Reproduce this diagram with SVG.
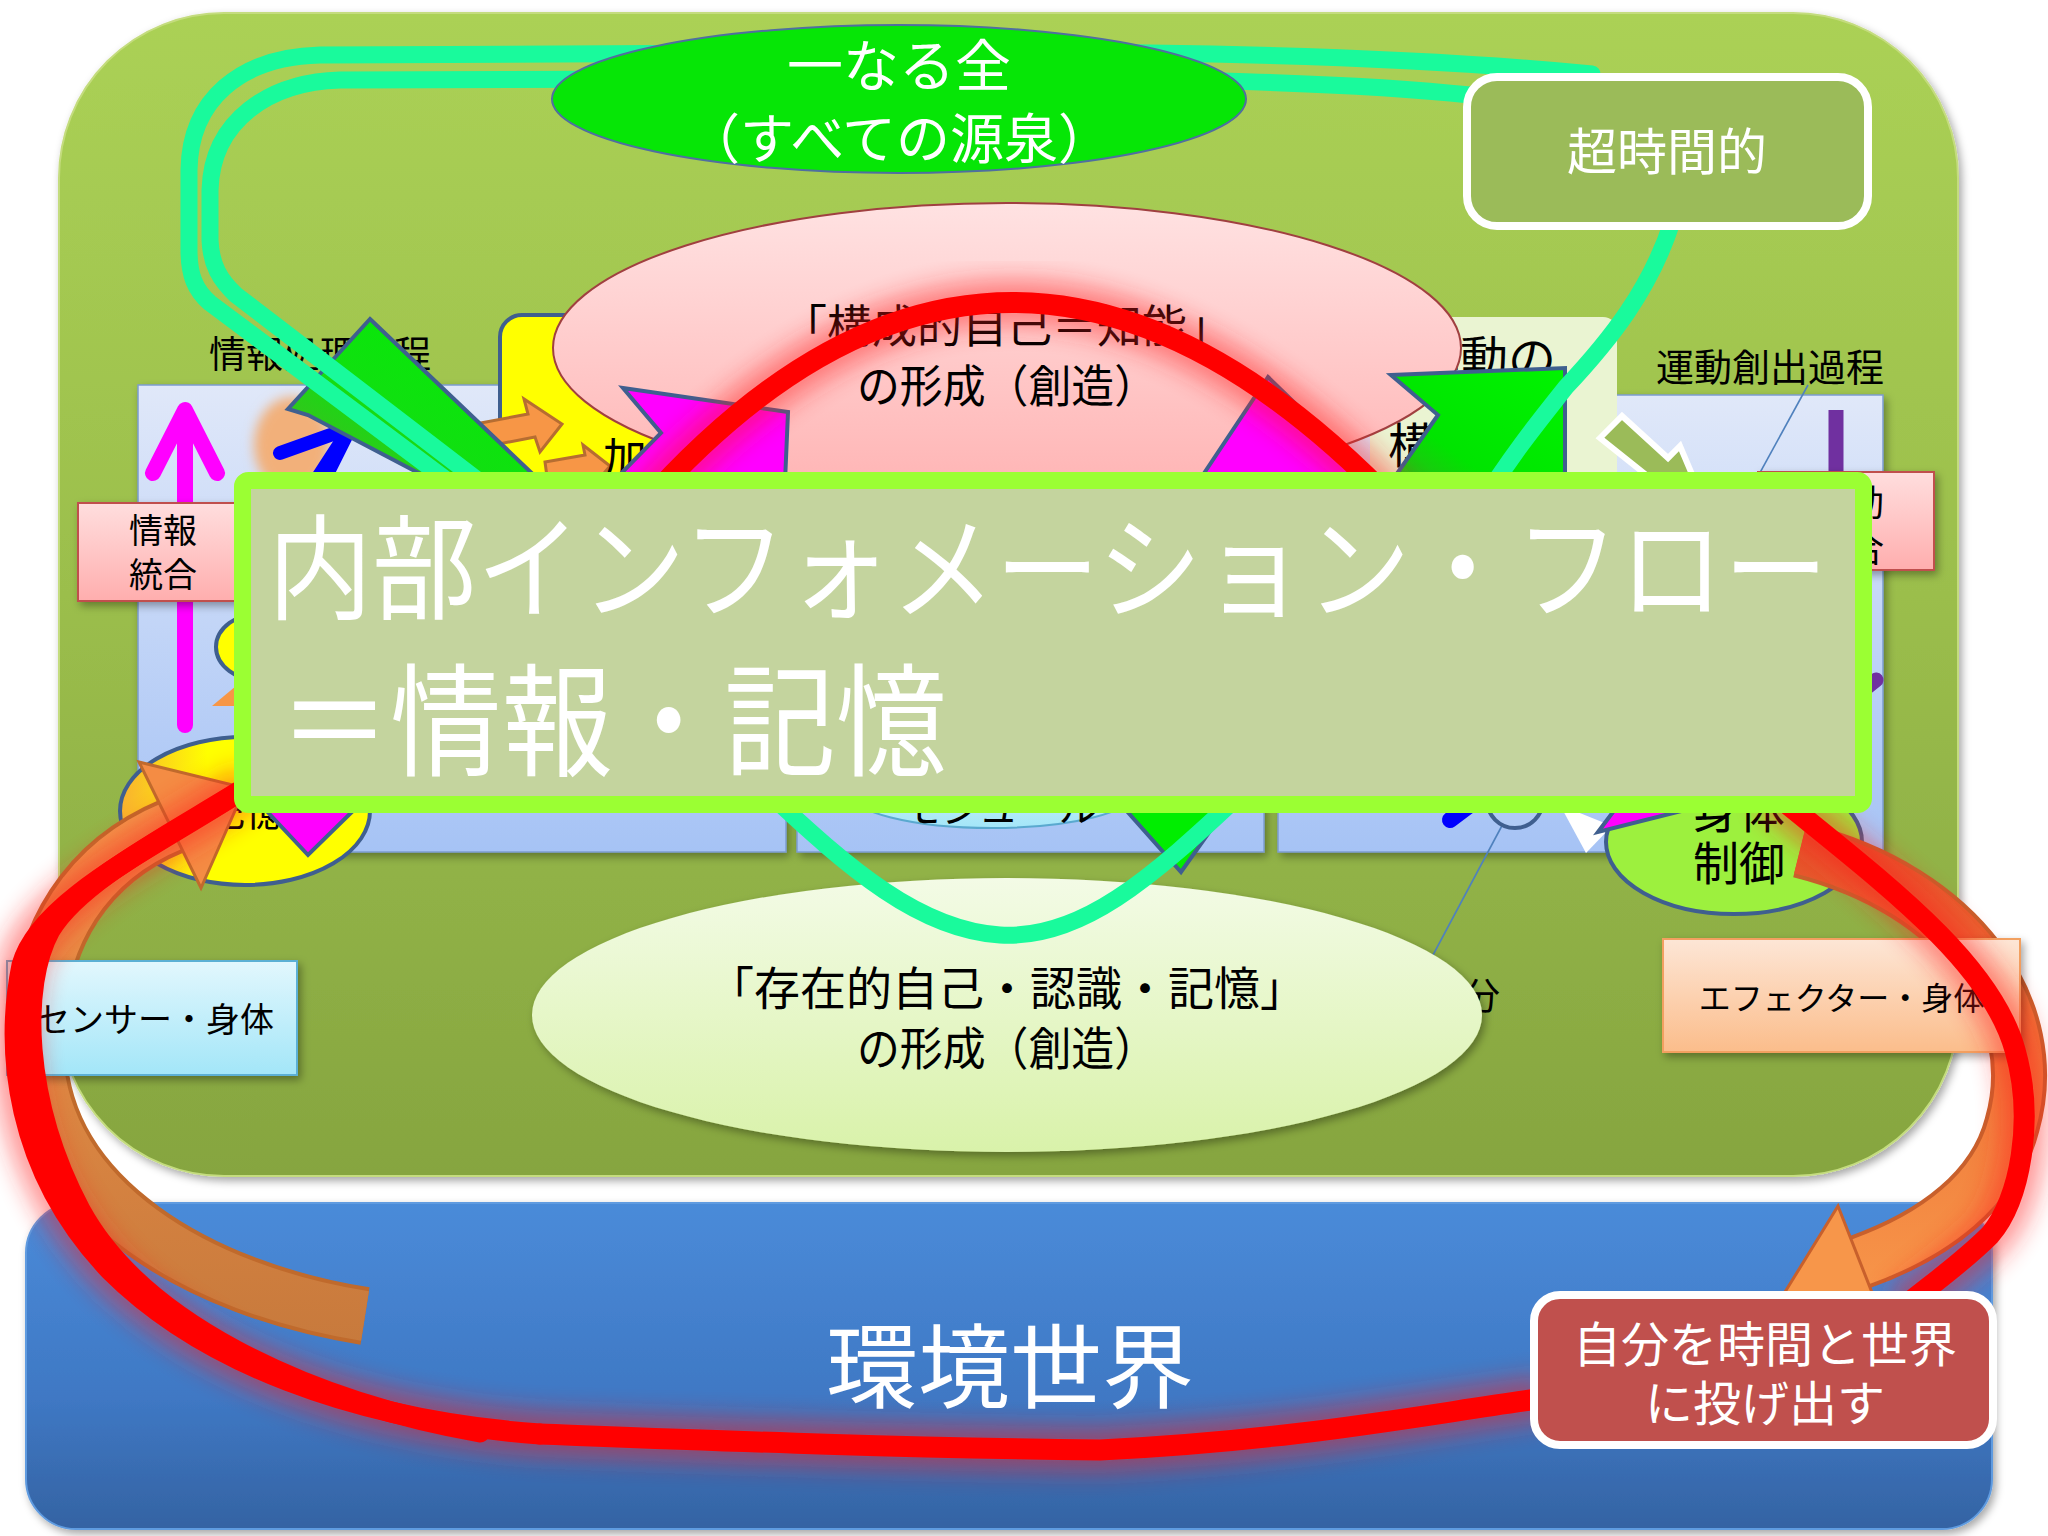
<svg xmlns="http://www.w3.org/2000/svg" width="2048" height="1536" viewBox="0 0 2048 1536">
<defs>
<style>
.t{font-family:'Noto Sans CJK JP','Noto Sans CJK SC',sans-serif;}
.blk{fill:#000;}
.wht{fill:#fff;}
.ol{stroke:#3f5f8f;stroke-width:4;}
.cy{fill:none;stroke:#19fa9c;stroke-width:17;stroke-linecap:round;stroke-linejoin:round;}
.red{fill:none;stroke:#ff0000;stroke-width:21;stroke-linecap:round;stroke-linejoin:round;}
.glow{fill:none;stroke:#ff1a1a;stroke-width:46;opacity:0.45;filter:url(#blur12);}
.thin{fill:none;stroke:#4f81bd;stroke-width:1.6;}
.panel{fill:url(#gPanel);stroke:#7c9cd0;stroke-width:1.5;filter:url(#shadow);}
</style>
<linearGradient id="gMain" x1="0" y1="0" x2="0" y2="1">
<stop offset="0" stop-color="#abd155"/><stop offset="0.5" stop-color="#9bbe4c"/><stop offset="1" stop-color="#86a540"/>
</linearGradient>
<linearGradient id="gBlue" x1="0" y1="0" x2="0" y2="1">
<stop offset="0" stop-color="#4a8bd9"/><stop offset="0.6" stop-color="#3f78c4"/><stop offset="1" stop-color="#3463a3"/>
</linearGradient>
<linearGradient id="gPanel" x1="0" y1="0" x2="0" y2="1">
<stop offset="0" stop-color="#e0e8f9"/><stop offset="1" stop-color="#a6c3f5"/>
</linearGradient>
<linearGradient id="gPink" x1="0" y1="0" x2="0" y2="1">
<stop offset="0" stop-color="#ffdede"/><stop offset="1" stop-color="#ffaeae"/>
</linearGradient>
<linearGradient id="gPinkE" x1="0" y1="0" x2="0" y2="1">
<stop offset="0" stop-color="#ffe2e2"/><stop offset="1" stop-color="#ffb4b4"/>
</linearGradient>
<linearGradient id="gLGreen" x1="0" y1="0" x2="0" y2="1">
<stop offset="0" stop-color="#f3fbe6"/><stop offset="1" stop-color="#d9f2aa"/>
</linearGradient>
<linearGradient id="gCyan" x1="0" y1="0" x2="0" y2="1">
<stop offset="0" stop-color="#e2f7fd"/><stop offset="1" stop-color="#a3e6f8"/>
</linearGradient>
<linearGradient id="gOrangeBox" x1="0" y1="0" x2="0" y2="1">
<stop offset="0" stop-color="#fde6d6"/><stop offset="1" stop-color="#fbbd8b"/>
</linearGradient>
<linearGradient id="gOrange" gradientUnits="userSpaceOnUse" x1="0" y1="760" x2="0" y2="1360">
<stop offset="0" stop-color="#f7964a"/><stop offset="1" stop-color="#c6793c"/>
</linearGradient>
<linearGradient id="gOrangeR" gradientUnits="userSpaceOnUse" x1="0" y1="840" x2="0" y2="1300">
<stop offset="0" stop-color="#e4522a"/><stop offset="0.5" stop-color="#f07a3a"/><stop offset="1" stop-color="#f7964a"/>
</linearGradient>
<linearGradient id="gChev" x1="1" y1="0" x2="0" y2="1">
<stop offset="0" stop-color="#00f400"/><stop offset="0.6" stop-color="#00e400"/><stop offset="1" stop-color="#4a9a2a"/>
</linearGradient>
<linearGradient id="gGreenArrow" x1="1" y1="0" x2="0" y2="1">
<stop offset="0" stop-color="#00f000"/><stop offset="0.55" stop-color="#10e010"/><stop offset="1" stop-color="#5aa82a"/>
</linearGradient>
<linearGradient id="gYellow" x1="0" y1="0" x2="1" y2="0">
<stop offset="0" stop-color="#f9b030"/><stop offset="0.35" stop-color="#ffff00"/><stop offset="1" stop-color="#ffff00"/>
</linearGradient>
<filter id="shadow" x="-10%" y="-10%" width="120%" height="125%">
<feDropShadow dx="3" dy="4" stdDeviation="4" flood-color="#000" flood-opacity="0.35"/>
</filter>
<filter id="blur12" x="-20%" y="-20%" width="140%" height="140%">
<feGaussianBlur stdDeviation="12"/>
</filter>
<filter id="blur6" x="-50%" y="-50%" width="200%" height="200%">
<feGaussianBlur stdDeviation="6"/>
</filter>
</defs>

<rect x="0" y="0" width="2048" height="1536" fill="#ffffff"/>

<g id="main-area">
<rect x="59" y="13" width="1899" height="1163" rx="165" fill="url(#gMain)" stroke="#c4dc7e" stroke-width="2" filter="url(#shadow)"/>
</g>
<g id="environment">
<rect x="26" y="1203" width="1966" height="326" rx="50" fill="url(#gBlue)" stroke="#5f9be0" stroke-width="2" filter="url(#shadow)"/>
</g>

<g id="labels">
<text class="t blk" x="320" y="368" font-size="37" text-anchor="middle">情報処理過程</text>
<text class="t blk" x="1770" y="381" font-size="38" text-anchor="middle">運動創出過程</text>
</g>

<g id="panels">
<rect class="panel" x="138" y="385" width="648" height="467"/>
<rect class="panel" x="797" y="395" width="467" height="457"/>
<rect class="panel" x="1278" y="395" width="605" height="457"/>
</g>

<g id="callouts">
<line class="thin" x1="1808" y1="385" x2="1745" y2="500"/>
<line class="thin" x1="1521" y1="790" x2="1433" y2="955"/>
</g>

<g id="panel-contents">
<ellipse cx="292" cy="445" rx="38" ry="48" fill="#f2b07a" filter="url(#blur6)"/>
<ellipse cx="262" cy="647" rx="46" ry="34" fill="#ffff00" class="ol"/>
<polygon points="212,706 236,686 236,706" fill="#f79646"/>
<line x1="185" y1="725" x2="185" y2="412" stroke="#ff00ff" stroke-width="16" stroke-linecap="round"/>
<polyline points="153,473 185,410 217,473" fill="none" stroke="#ff00ff" stroke-width="16" stroke-linecap="round" stroke-linejoin="round"/>
<line x1="350" y1="428" x2="300" y2="505" stroke="#0000ff" stroke-width="14" stroke-linecap="round"/>
<polyline points="280,453 350,428 328,472" fill="none" stroke="#0000ff" stroke-width="14" stroke-linecap="round" stroke-linejoin="round"/>
<line x1="1836" y1="410" x2="1836" y2="712" stroke="#7030a0" stroke-width="15"/>
<polyline points="1796,680 1836,712 1876,680" fill="none" stroke="#7030a0" stroke-width="15" stroke-linecap="round"/>
<ellipse cx="992" cy="792" rx="143" ry="36" fill="url(#gCyan)" stroke="#5aa9cf" stroke-width="2"/>
<text class="t blk" x="1000" y="822" font-size="40" text-anchor="middle">モジュール</text>
<circle cx="1515" cy="800" r="28" fill="#b0cbf5" class="ol"/>
<line x1="1490" y1="790" x2="1450" y2="820" stroke="#0000ff" stroke-width="16" stroke-linecap="round"/>
<polygon points="1117,800 1232,800 1181,872" fill="#00ee00" class="ol"/>
</g>

<g id="info-integration">
<rect x="78" y="503" width="170" height="98" fill="url(#gPink)" stroke="#c0504d" stroke-width="2" filter="url(#shadow)"/>
<text class="t blk" x="163" y="543" font-size="34" text-anchor="middle">情報</text>
<text class="t blk" x="163" y="587" font-size="34" text-anchor="middle">統合</text>
</g>
<g id="motor-integration">
<rect x="1758" y="472" width="176" height="98" fill="url(#gPink)" stroke="#c0504d" stroke-width="2" filter="url(#shadow)"/>
<text class="t blk" x="1848" y="516" font-size="36" text-anchor="middle">運動</text>
<text class="t blk" x="1848" y="562" font-size="36" text-anchor="middle">統合</text>
</g>

<g id="memory">
<ellipse cx="245" cy="811" rx="125" ry="74" fill="url(#gYellow)" class="ol"/>
<text class="t blk" x="245" y="826" font-size="40" text-anchor="middle">記憶</text>
<polygon points="262,806 358,806 308,855" fill="#ff00ff" class="ol"/>
</g>

<g id="body-control">
<polygon points="1560,805 1612,826 1586,853" fill="#ffffff"/>
<ellipse cx="1734" cy="842" rx="128" ry="72" fill="#9df03e" class="ol"/>
<polygon points="1598,832 1622,800 1725,800" fill="#ff00ff" class="ol"/>
<text class="t blk" x="1739" y="828" font-size="46" text-anchor="middle">身体</text>
<text class="t blk" x="1739" y="880" font-size="46" text-anchor="middle">制御</text>
</g>

<g id="processing-box">
<rect x="500" y="315" width="400" height="220" rx="22" fill="#ffff00" class="ol"/>
<polygon points="470,425 528,414 524,399 562,424 540,452 535,437 478,448" fill="#f79646" stroke="#b66d31" stroke-width="3"/>
<polygon points="545,462 585,455 583,445 610,466 590,490 588,478 548,484" fill="#f79646" stroke="#b66d31" stroke-width="3"/>
<text class="t blk" x="603" y="475" font-size="44">加</text>
</g>

<g id="motor-box">
<rect x="1370" y="317" width="247" height="200" rx="14" fill="#eaf4d2"/>
<text class="t blk" x="1412" y="376" font-size="48">運動の</text>
<text class="t blk" x="1388" y="463" font-size="48">構成</text>
</g>

<g id="text-under">
<text class="t blk" x="1463" y="1010" font-size="37">分</text>
</g>

<g id="constructive-self">
<ellipse cx="1007" cy="348" rx="454" ry="145" fill="url(#gPinkE)" stroke="#a04040" stroke-width="2"/>
<text class="t blk" x="1007" y="343" font-size="45" text-anchor="middle">「構成的自己＝知能」</text>
<text class="t blk" x="1007" y="403" font-size="45" text-anchor="middle" textLength="300" lengthAdjust="spacingAndGlyphs">の形成（創造）</text>
</g>

<g id="existential-self">
<ellipse cx="1007" cy="1015" rx="475" ry="137" fill="url(#gLGreen)" filter="url(#shadow)"/>
<text class="t blk" x="1007" y="1005" font-size="46" text-anchor="middle">「存在的自己・認識・記憶」</text>
<text class="t blk" x="1007" y="1065" font-size="46" text-anchor="middle" textLength="300" lengthAdjust="spacingAndGlyphs">の形成（創造）</text>
</g>

<g id="connectors">
<polygon points="370,319 560,500 470,500 308,415 288,409" fill="url(#gGreenArrow)" class="ol"/>
<polygon points="623,388 788,412 784,505 590,505 661,433" fill="#ff00ff" class="ol"/>
<polygon points="1268,377 1400,505 1183,505" fill="#ff00ff" class="ol"/>
<polygon points="1391,375 1565,368 1565,505 1375,505 1438,415" fill="url(#gChev)" class="ol"/>
<polygon points="1600,438 1622,416 1668,458 1680,446 1705,505 1645,495 1655,482" fill="#9bbb59" stroke="#ffffff" stroke-width="6"/>
<path class="cy" d="M1592,74 C1450,60 1250,52 1000,52 L320,55 C240,57 190,100 189,170 L189,250 C189,275 195,290 210,303 L480,505"/>
<path class="cy" d="M1470,95 C1350,82 1150,78 1000,78 L340,80 C270,82 212,120 210,190 L210,240 C211,265 220,280 236,295 L510,505"/>
<path class="cy" d="M1672,222 C1650,290 1610,340 1566,387 C1540,420 1515,450 1480,505"/>
<path class="cy" d="M1245,790 C1150,880 1080,940 1000,935 C920,930 850,870 765,790"/>
<path d="M365,1316 C200,1290 45,1200 38,1055 C32,930 95,858 172,826" fill="none" stroke="#c06a2c" stroke-width="58"/>
<path d="M365,1316 C200,1290 45,1200 38,1055 C32,930 95,858 172,826" fill="none" stroke="url(#gOrange)" stroke-width="50"/>
<polygon points="245,788 201,888 139,762" fill="#f48c44" stroke="#c06a2c" stroke-width="3"/>
<path d="M1800,850 C1960,890 2045,1010 2012,1125 C1995,1190 1935,1235 1860,1262" fill="none" stroke="#c8602c" stroke-width="56"/>
<path d="M1800,850 C1960,890 2045,1010 2012,1125 C1995,1190 1935,1235 1860,1262" fill="none" stroke="url(#gOrangeR)" stroke-width="48"/>
<polygon points="1785,1292 1838,1206 1882,1318" fill="#f7964a" stroke="#c8602c" stroke-width="3"/>
</g>

<g id="sensor">
<rect x="7" y="961" width="290" height="114" fill="url(#gCyan)" stroke="#5bb0d4" stroke-width="2" filter="url(#shadow)"/>
<text class="t blk" x="155" y="1032" font-size="34" text-anchor="middle">センサー・身体</text>
</g>
<g id="effector">
<rect x="1663" y="939" width="357" height="113" fill="url(#gOrangeBox)" stroke="#f2a060" stroke-width="2" filter="url(#shadow)"/>
<text class="t blk" x="1842" y="1010" font-size="32" text-anchor="middle">エフェクター・身体</text>
</g>

<g id="red-loop">
<path class="glow" d="M640,510 Q1005,95 1400,510"/>
<path class="glow" d="M250,785 C150,850 40,900 22,965 C5,1050 15,1170 110,1270 C200,1360 350,1420 540,1434 C700,1440 900,1448 1100,1450 C1300,1440 1420,1415 1545,1398"/>
<path class="glow" d="M1770,790 C1880,880 1990,960 2015,1050 C2035,1120 2020,1200 1990,1235 C1960,1265 1930,1285 1900,1310"/>
<path class="red" d="M640,510 Q1005,95 1400,510"/>
<path class="red" d="M250,785 C150,850 40,900 22,965 C5,1050 15,1170 110,1270 C200,1360 350,1420 540,1434"/>
<path class="red" d="M250,785 C170,835 80,880 50,930 C20,985 22,1100 80,1210 C140,1320 300,1400 480,1432"/>
<path class="red" d="M540,1434 C700,1440 900,1448 1100,1450 C1300,1440 1420,1415 1545,1398"/>
<path class="red" d="M1770,790 C1880,880 1990,960 2015,1050 C2035,1120 2020,1200 1990,1235 C1960,1265 1930,1285 1900,1310"/>
</g>

<g id="one-whole">
<ellipse cx="899" cy="99" rx="347" ry="74" fill="#06e606" stroke="#4f6f9f" stroke-width="2"/>
<text class="t wht" x="899" y="86" font-size="56" text-anchor="middle">一なる全</text>
<text class="t wht" x="899" y="159" font-size="54" text-anchor="middle">（すべての源泉）</text>
</g>

<g id="transtemporal">
<rect x="1467" y="77" width="401" height="149" rx="30" fill="#9bbb59" stroke="#ffffff" stroke-width="8"/>
<text class="t wht" x="1667" y="170" font-size="50" text-anchor="middle">超時間的</text>
</g>

<g id="internal-flow">
<rect x="242.5" y="480.5" width="1621" height="324" rx="6" fill="#c4d49e" stroke="#9bff33" stroke-width="17"/>
<text class="t wht" x="268" y="610" font-size="114" textLength="1560" lengthAdjust="spacingAndGlyphs">内部インフォメーション・フロー</text>
<text class="t wht" x="279" y="766" font-size="122" textLength="668" lengthAdjust="spacingAndGlyphs">＝情報・記憶</text>
</g>

<g id="environment-label">
<text class="t wht" x="1010" y="1401" font-size="92" text-anchor="middle">環境世界</text>
</g>

<g id="throw-self">
<rect x="1534" y="1295" width="459" height="150" rx="26" fill="#c0504d" stroke="#ffffff" stroke-width="8"/>
<text class="t wht" x="1765" y="1362" font-size="48" text-anchor="middle">自分を時間と世界</text>
<text class="t wht" x="1765" y="1421" font-size="48" text-anchor="middle">に投げ出す</text>
</g>
</svg>
